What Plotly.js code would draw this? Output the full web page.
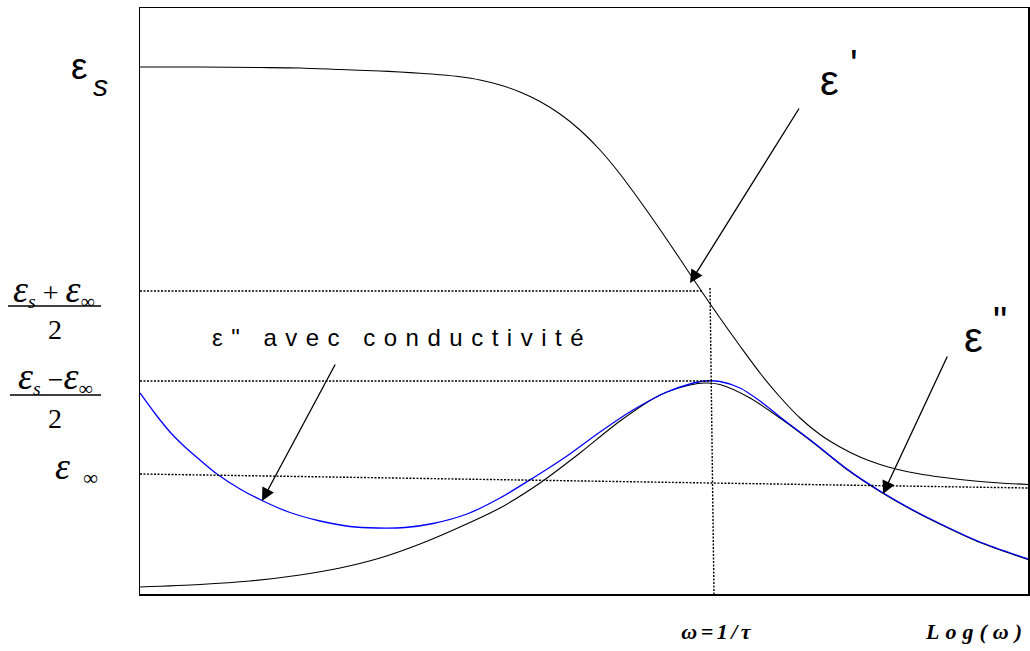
<!DOCTYPE html>
<html>
<head>
<meta charset="utf-8">
<script src="https://cdn.plot.ly/plotly-3.0.1.min.js"></script>
<style>html,body{margin:0;padding:0;background:#fff;}</style>
</head>
<body>
<div id="chart" style="width:1030px;height:651px;"></div>
<script>
// Debye relaxation: real part, loss, and loss with a conductivity term.
// Horizontal axis: log(omega) in arbitrary units; vertical: permittivity in arbitrary units.
const logOmegaReal = [0, 60, 120, 160, 200, 240, 260, 280, 300, 320, 340, 360, 380, 400, 420, 440, 460, 480, 500, 520, 540, 560, 580, 600, 620, 640, 660, 680, 700, 720, 740, 760, 780, 800, 820, 840, 860, 888];
const epsReal      = [527, 527, 526.5, 526, 524.5, 523, 522, 520.7, 519.2, 517.2, 514, 509, 502, 492.5, 480, 464, 444, 420, 393, 364.5, 335, 305, 276, 248, 221, 197, 176, 159.5, 147, 137, 129.5, 124, 120, 117, 114.5, 112.5, 111, 109.5];

const logOmegaLoss = [0, 60, 110, 160, 200, 240, 280, 320, 360, 400, 440, 480, 520, 550, 565, 580, 610, 640, 673, 707, 740, 773, 807, 840, 888];
const epsLoss      = [7, 9.5, 13, 19, 26, 36, 50, 67, 86, 111, 141, 173, 199, 209, 211, 209.5, 196, 176, 151.5, 124.5, 102.5, 83.5, 66.5, 51.5, 34.5];

const logOmegaCond = [0, 15, 30, 45, 60, 77, 100, 123, 150, 180, 210, 237, 265, 293, 327, 360, 393, 427, 460, 493, 527, 550, 565, 580, 600, 620, 640, 673, 707, 740, 773, 807, 840, 888];
const epsLossCond  = [201, 180.5, 162, 147, 134, 120, 105, 93, 81.5, 73, 67.5, 66, 66.5, 70.5, 80, 96, 116, 138, 162, 184, 202, 210, 213, 212.5, 206, 193, 177, 152, 125, 103, 84, 67, 52, 35];

// Guide levels
const levelHalfSum = 303;        // (eps_s + eps_inf)/2
const levelHalfDiff = 213;       // (eps_s - eps_inf)/2
const levelInf = [120, 106];     // eps_inf guide at left and right ends
const omegaTau = [570, 574];     // omega = 1/tau guide (top, bottom)
const xRange = [0, 888];
const yRange = [0, 586];

const W = 1030, H = 651;
const M = {l: 140, r: 2, t: 8, b: 57};
const pw = W - M.l - M.r, ph = H - M.t - M.b;
const fx = p => (p - M.l) / pw;
const fy = p => (H - M.b - p) / ph;

const curve = (x, y, color, width) => ({x: x, y: y, mode: 'lines',
  line: {color: color, width: width, shape: 'spline', smoothing: 0.8}, hoverinfo: 'skip'});
const traces = [
  curve(logOmegaReal, epsReal, '#000', 1.1),
  curve(logOmegaLoss, epsLoss, '#000', 1.1),
  curve(logOmegaCond, epsLossCond, '#0000ff', 1.3)
];

const dotted = {color: '#000', width: 1.4, dash: '2px,1.5px'};
const shapes = [
  {type: 'line', xref: 'x', yref: 'y', x0: xRange[0], x1: omegaTau[0] - 7, y0: levelHalfSum, y1: levelHalfSum, line: dotted},
  {type: 'line', xref: 'x', yref: 'y', x0: xRange[0], x1: omegaTau[0] + 2, y0: levelHalfDiff, y1: levelHalfDiff, line: dotted},
  {type: 'line', xref: 'x', yref: 'y', x0: xRange[0], x1: xRange[1], y0: levelInf[0], y1: levelInf[1], line: dotted},
  {type: 'line', xref: 'x', yref: 'y', x0: omegaTau[0], x1: omegaTau[1], y0: levelHalfSum + 3, y1: yRange[0], line: dotted},
  // fraction bars
  {type: 'line', xref: 'paper', yref: 'paper', x0: fx(8), x1: fx(101), y0: fy(306), y1: fy(306), line: {color: '#000', width: 1.3}},
  {type: 'line', xref: 'paper', yref: 'paper', x0: fx(10), x1: fx(101), y0: fy(395), y1: fy(395), line: {color: '#000', width: 1.3}}
];

const sans = 'Liberation Sans, Arial, sans-serif';
const serif = 'Liberation Serif, Times New Roman, serif';
function lab(text, px, py, font) {
  return {text: text, xref: 'paper', yref: 'paper', x: fx(px), y: fy(py),
    xanchor: 'center', yanchor: 'middle', showarrow: false, font: Object.assign({color: '#000'}, font)};
}
function arrow(tip, tail) {
  return {text: '', xref: 'x', yref: 'y', axref: 'x', ayref: 'y', x: tip[0], y: tip[1], ax: tail[0], ay: tail[1],
    showarrow: true, arrowhead: 2, arrowsize: 2, arrowwidth: 1.3, arrowcolor: '#000', standoff: 0};
}
const bigEps = '<span style="font-size:38px"><i>ε</i></span>';

const annotations = [
  lab('ε', 79, 66, {family: sans, size: 37}),
  lab('s', 100, 86, {family: sans, size: 30, style: 'italic'}),
  lab(bigEps + '<sub><i>s</i></sub> + ' + bigEps + '<sub>∞</sub>', 53, 290, {family: serif, size: 28}),
  lab('2', 55, 329, {family: serif, size: 28}),
  lab(bigEps + '<sub><i>s</i></sub> −' + bigEps + '<sub>∞</sub>', 55, 377, {family: serif, size: 28}),
  lab('2', 55, 418, {family: serif, size: 28}),
  lab(bigEps, 62, 466, {family: serif, size: 28}),
  lab('∞', 90, 478, {family: serif, size: 21}),
  lab('ε', 829, 80, {family: sans, size: 42}),
  lab("'", 854, 64, {family: sans, size: 40}),
  lab('ε', 973, 337, {family: sans, size: 42}),
  lab('"', 1000, 321, {family: sans, size: 40}),
  lab('ε" avec conductivité', 402, 338, {family: sans, size: 24}),
  lab('ω=1/τ', 718, 631, {family: serif, size: 22, weight: 'bold', style: 'italic'}),
  lab('Log(ω)', 976, 631, {family: serif, size: 22, weight: 'bold', style: 'italic'}),
  arrow([550, 311], [660, 487]),
  arrow([743, 100], [808, 239]),
  arrow([122, 93], [196, 231])
];
const spacing = {12: 8.5, 13: 3.5, 14: 6};

const axisBase = {showgrid: false, zeroline: false, showticklabels: false, ticks: '',
  showline: true, mirror: true, linecolor: '#000', linewidth: 1.5, fixedrange: true};

const layout = {
  width: W, height: H, margin: M,
  paper_bgcolor: '#fff', plot_bgcolor: '#fff', showlegend: false,
  xaxis: Object.assign({range: xRange}, axisBase),
  yaxis: Object.assign({range: yRange}, axisBase),
  shapes: shapes, annotations: annotations
};

const gd = document.getElementById('chart');
Plotly.newPlot(gd, traces, layout, {staticPlot: true, displayModeBar: false}).then(() => {
  Object.keys(spacing).forEach(i => {
    const t = gd.querySelector('.annotation[data-index="' + i + '"] text.annotation-text');
    if (t) t.style.letterSpacing = spacing[i] + 'px';
  });
});
</script>
</body>
</html>
